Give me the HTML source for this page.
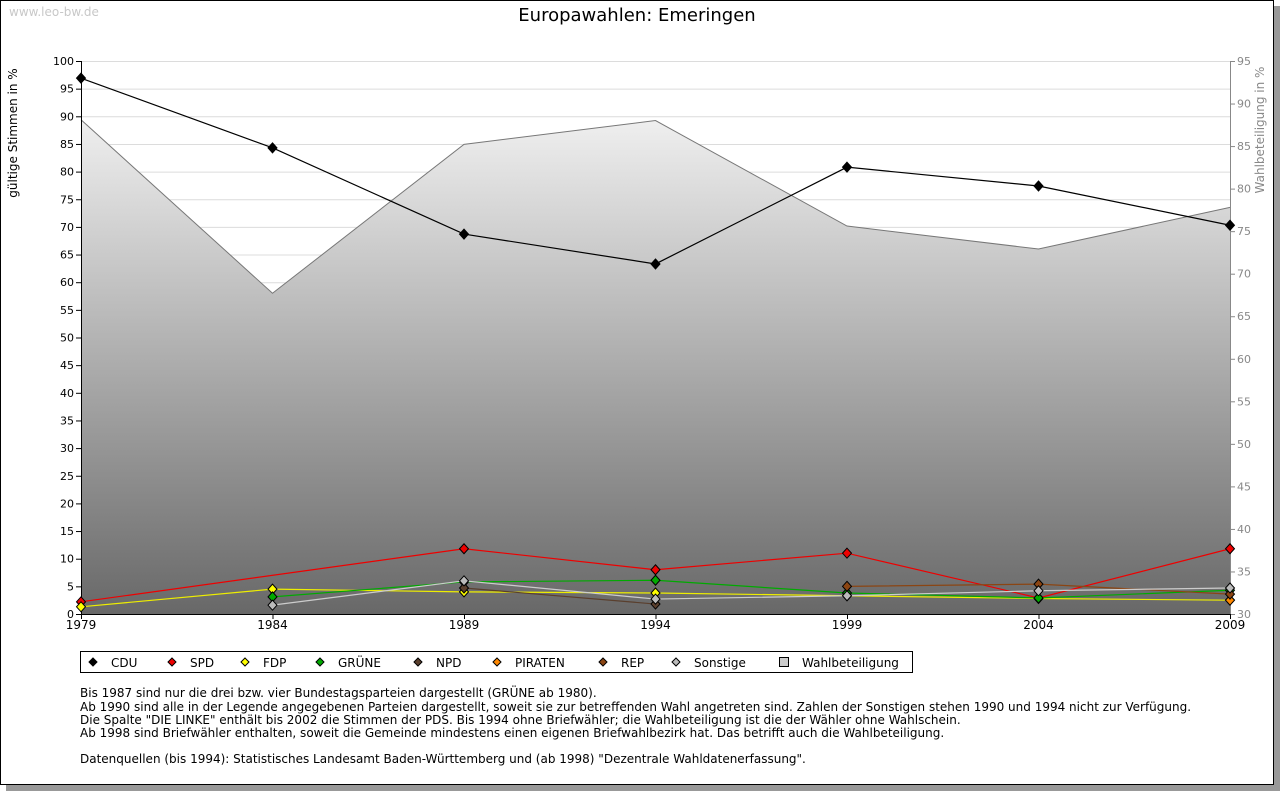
<!DOCTYPE html>
<html><head><meta charset="utf-8"><style>
body{margin:0;width:1280px;height:791px;overflow:hidden;background:#fff;font-family:"DejaVu Sans","Liberation Sans",sans-serif}
svg{display:block}
</style></head><body>
<svg width="1280" height="791" font-family="DejaVu Sans, Liberation Sans, sans-serif">
<defs>
<linearGradient id="g" x1="0" y1="61" x2="0" y2="614" gradientUnits="userSpaceOnUse">
<stop offset="0" stop-color="#ffffff"/><stop offset="1" stop-color="#686868"/></linearGradient>
</defs>
<rect x="6" y="6" width="1274" height="785" fill="#999"/>
<rect x="0.5" y="0.5" width="1273" height="784" fill="#fff" stroke="#000"/>
<text x="9" y="16" font-size="12" fill="#c8c8c8">www.leo-bw.de</text>
<text x="637" y="21" font-size="18" text-anchor="middle">Europawahlen: Emeringen</text>
<text transform="translate(17,133) rotate(-90)" font-size="12" text-anchor="middle">gültige Stimmen in %</text>
<text transform="translate(1264,130) rotate(-90)" font-size="12" fill="#888" text-anchor="middle">Wahlbeteiligung in %</text>
<g id="grid"></g><g id="area"></g><g id="axes"></g><g id="series"></g>
<g>
<rect x="80.5" y="651.5" width="832" height="21" fill="#fff" stroke="#000"/>
<g id="legend"></g>
</g>
<g font-size="12">
<text x="80" y="697">Bis 1987 sind nur die drei bzw. vier Bundestagsparteien dargestellt (GRÜNE ab 1980).</text>
<text x="80" y="711">Ab 1990 sind alle in der Legende angegebenen Parteien dargestellt, soweit sie zur betreffenden Wahl angetreten sind. Zahlen der Sonstigen stehen 1990 und 1994 nicht zur Verfügung.</text>
<text x="80" y="724">Die Spalte "DIE LINKE" enthält bis 2002 die Stimmen der PDS. Bis 1994 ohne Briefwähler; die Wahlbeteiligung ist die der Wähler ohne Wahlschein.</text>
<text x="80" y="737">Ab 1998 sind Briefwähler enthalten, soweit die Gemeinde mindestens einen eigenen Briefwahlbezirk hat. Das betrifft auch die Wahlbeteiligung.</text>
<text x="80" y="763">Datenquellen (bis 1994): Statistisches Landesamt Baden-Württemberg und (ab 1998) "Dezentrale Wahldatenerfassung".</text>
</g>
</svg>
<script>
const years=[1979,1984,1989,1994,1999,2004,2009];
const cdu=[96.9,84.3,68.7,63.3,80.8,77.4,70.3];
const spd=[2.2,null,11.8,8.0,11.0,2.9,11.8];
const fdp=[1.3,4.5,4.0,3.8,3.3,2.8,2.5];
const gruene=[null,3.1,5.8,6.1,3.8,2.9,4.3];
const npd=[null,null,4.7,1.8,null,null,null];
const piraten=[null,null,null,null,null,null,2.5];
const rep=[null,null,null,null,5.0,5.4,3.6];
const sonstige=[null,1.6,6.0,2.7,3.3,4.2,4.7];
const turnout=[88.1,67.7,85.2,88.0,75.6,72.9,77.8];
const leftTicks=[0,5,10,15,20,25,30,35,40,45,50,55,60,65,70,75,80,85,90,95,100];
const rightTicks=[30,35,40,45,50,55,60,65,70,75,80,85,90,95];
const X0=81,X1=1230,Y0=614,Y1=61;
const x=i=>X0+(years[i]-years[0])/(years[6]-years[0])*(X1-X0);
const y=v=>Y0-v/100*(Y0-Y1);
const yr=v=>Y0-(v-30)/65*(Y0-Y1);
const NS='http://www.w3.org/2000/svg';
function mk(p,t,a){const e=document.createElementNS(NS,t);for(const k in a)e.setAttribute(k,a[k]);p.appendChild(e);return e;}
const grid=document.getElementById('grid'),area=document.getElementById('area'),axes=document.getElementById('axes'),ser=document.getElementById('series');
leftTicks.forEach(t=>{if(t>0){const l=mk(grid,'line',{x1:X0,x2:X1,y1:y(t)+.5,y2:y(t)+.5,stroke:'#dcdcdc'});

}
mk(axes,'line',{x1:X0-5,x2:X0,y1:y(t)+.5,y2:y(t)+.5,stroke:'#000'});
const tx=mk(axes,'text',{x:X0-7,y:y(t)+4,'font-size':11,'text-anchor':'end'});tx.textContent=t;

});
rightTicks.forEach(t=>{mk(axes,'line',{x1:X1,x2:X1+5,y1:yr(t)+.5,y2:yr(t)+.5,stroke:'#888'});
const tx=mk(axes,'text',{x:X1+7,y:yr(t)+4,'font-size':11,fill:'#888'});tx.textContent=t;

});
let pts=turnout.map((v,i)=>x(i)+','+yr(v)).join(' ');
const ar=mk(area,'polygon',{points:X0+','+Y0+' '+pts+' '+X1+','+Y0,fill:'url(#g)'});


const al=mk(area,'polyline',{points:pts,fill:'none',stroke:'#777','stroke-width':1});


mk(axes,'line',{x1:X0+.5,x2:X0+.5,y1:Y1,y2:Y0,stroke:'#000'});
mk(axes,'line',{x1:X1+.5,x2:X1+.5,y1:Y1,y2:Y0,stroke:'#888'});
mk(axes,'line',{x1:X0,x2:X1,y1:Y0+.5,y2:Y0+.5,stroke:'#000'});
years.forEach((yv,i)=>{mk(axes,'line',{x1:x(i)+.5,x2:x(i)+.5,y1:Y0,y2:Y0+5,stroke:'#000'});
const tx=mk(axes,'text',{x:x(i),y:Y0+15,'font-size':12,'text-anchor':'middle'});tx.textContent=yv;

});
const series=[['CDU',cdu,'#000','#000'],['SPD',spd,'#e00','#e00'],['FDP',fdp,'#ee0','#ff0'],['GRÜNE',gruene,'#0a0','#0a0'],['NPD',npd,'#5a3f2d','#5a3f2d'],['PIRATEN',piraten,'#f80','#f80'],['REP',rep,'#8b4513','#8b4513'],['Sonstige',sonstige,'#ccc','#bbb']];
function dia(p,cx,cy,f){return mk(p,'path',{d:`M${cx} ${cy-5}L${cx+4.5} ${cy}L${cx} ${cy+5}L${cx-4.5} ${cy}Z`,fill:f,stroke:'#000','stroke-width':1});}
series.forEach(([n,d,lc,fc])=>{const g=mk(ser,'g',{});


const p=[];d.forEach((v,i)=>{if(v!=null)p.push(x(i)+','+y(v));});
if(p.length>1)mk(g,'polyline',{points:p.join(' '),fill:'none',stroke:lc,'stroke-width':1.2});
d.forEach((v,i)=>{if(v!=null){const m=dia(g,x(i),y(v),fc);

}});});
const leg=document.getElementById('legend');
const lx=[93,172,245,320,418,497,603,676];
series.forEach(([n,d,lc,fc],i)=>{const g=mk(leg,'g',{});


mk(g,'path',{d:`M${lx[i]} 658L${lx[i]+4} 662L${lx[i]} 666L${lx[i]-4} 662Z`,fill:fc,stroke:'#000'});
const t=mk(g,'text',{x:lx[i]+18,y:667,'font-size':12});t.textContent=n;});
const gw=mk(leg,'g',{});


mk(gw,'rect',{x:779.5,y:657.5,width:9,height:9,fill:'#ccc',stroke:'#000'});
const tw=mk(gw,'text',{x:802,y:667,'font-size':12});tw.textContent='Wahlbeteiligung';
</script>
</body></html>
